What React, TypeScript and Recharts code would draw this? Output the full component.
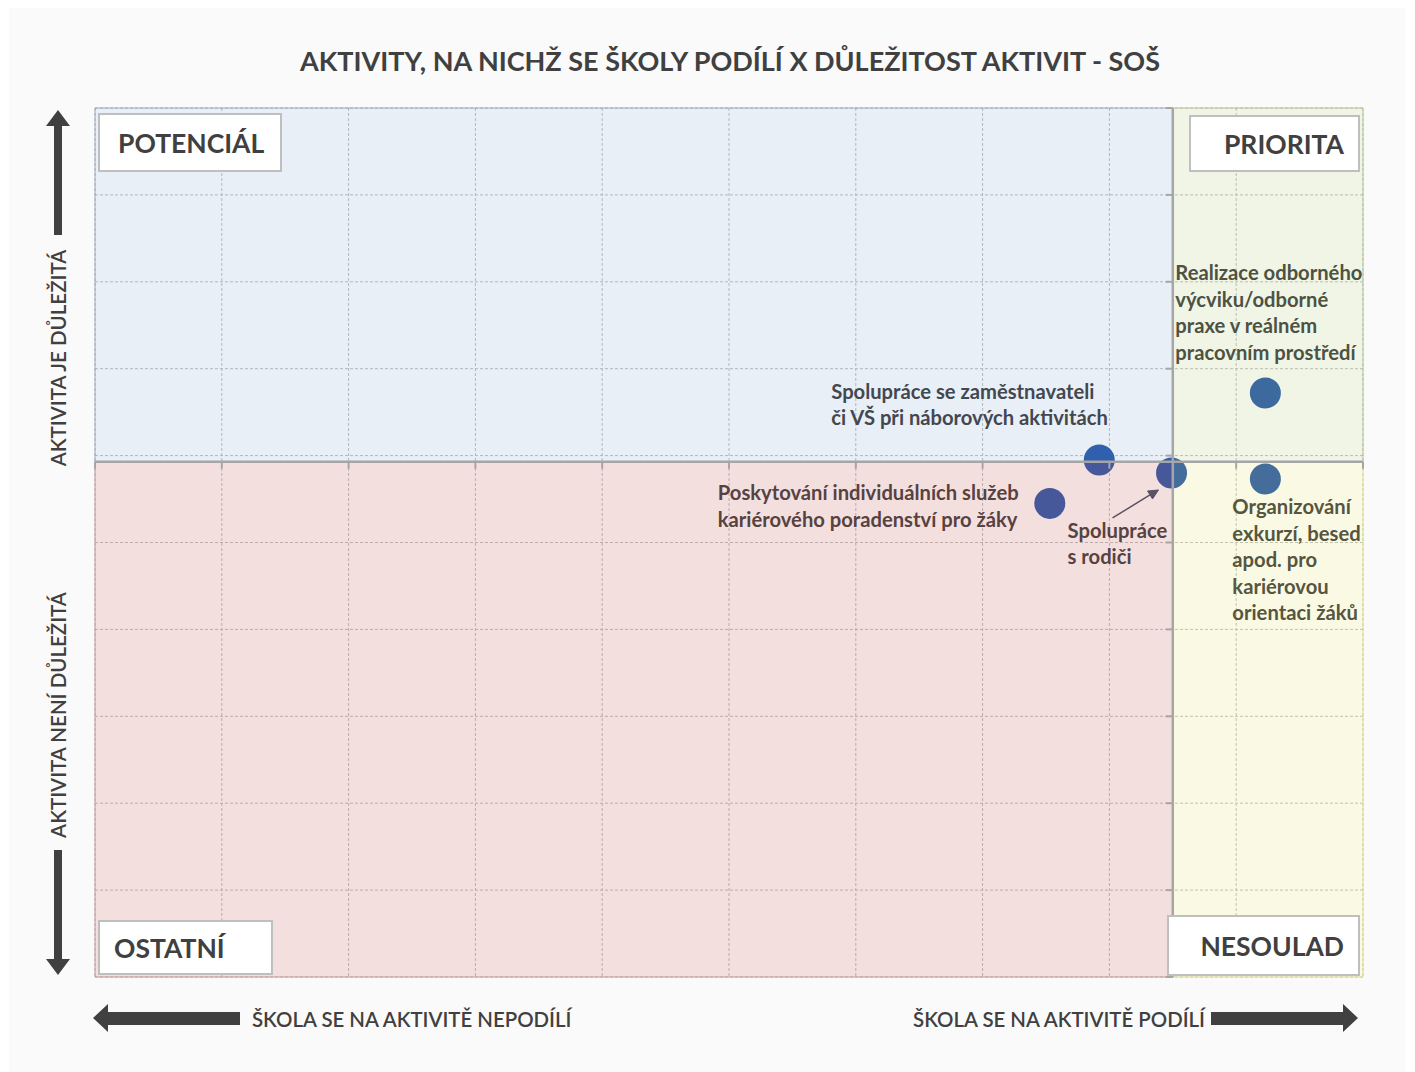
import React from 'react'
import { ScatterChart, Scatter, XAxis, YAxis, CartesianGrid, ReferenceArea, ReferenceLine } from 'recharts'

// activities (x = share of schools taking part, y = importance)
const activities = [
  'Realizace odborného výcviku/odborné praxe v reálném pracovním prostředí',
  'Organizování exkurzí, besed apod. pro kariérovou orientaci žáků',
  'Spolupráce se zaměstnavateli či VŠ při náborových aktivitách',
  'Poskytování individuálních služeb kariérového poradenství pro žáky',
  'Spolupráce s rodiči',
]
const participation = [92.3, 92.3, 79.2, 75.3, 84.9]
const importance = [6.72, 5.73, 5.95, 5.45, 5.8]
const labelLines = [
  ['Realizace odborného', 'výcviku/odborné', 'praxe v reálném', 'pracovním prostředí'],
  ['Organizování', 'exkurzí, besed', 'apod. pro', 'kariérovou', 'orientaci žáků'],
  ['Spolupráce se zaměstnavateli', 'či VŠ při náborových aktivitách'],
  ['Poskytování individuálních služeb', 'kariérového poradenství pro žáky'],
  ['Spolupráce', 's rodiči'],
]

const xTicks = [0, 10, 20, 30, 40, 50, 60, 70, 80, 90, 100]
const yTicks = [0, 1, 2, 3, 4, 5, 6, 7, 8, 9, 10]
const X_CROSS = 85
const Y_CROSS = 5.93

// label placement relative to the point (px)
const labelOffsets = [
  [-90, -113],
  [-33, 35],
  [-268, -61],
  [-332, -3],
  [-104, 65],
]

const data = activities.map((name, i) => ({ name, x: participation[i], y: importance[i], idx: i }))

const FONT = 'Lato, "Open Sans", sans-serif'
const TEXT = '#404040'

function Bubble(props: any) {
  const { cx, cy, payload } = props
  if (cx == null || cy == null) return null
  const i = payload.idx
  const [dx, dy] = labelOffsets[i]
  return (
    <g>
      <circle cx={cx} cy={cy} r={15.5} fill="#2c5bab" />
      <text x={cx + dx} y={cy + dy} fontFamily={FONT} fontWeight={700} fontSize={20.2} fill={TEXT}>
        {labelLines[i].map((l, k) => (
          <tspan key={k} x={cx + dx} dy={k === 0 ? 0 : 26.5}>
            {l}
          </tspan>
        ))}
      </text>
      {i === 4 && (
        <g stroke="#44546a" fill="#44546a">
          <line x1={cx - 59} y1={cy + 45} x2={cx - 20} y2={cy + 21} strokeWidth={1.5} />
          <polygon points={`${cx - 13},${cy + 17} ${cx - 24},${cy + 18} ${cx - 19},${cy + 26}`} />
        </g>
      )}
    </g>
  )
}

function VAxisLine(props: any) {
  const { x1, y1, x2, y2 } = props
  if (x1 == null) return null
  const n = yTicks.length - 1
  return (
    <g stroke="#a6a6a6" strokeWidth={2.5}>
      <line x1={x1} y1={y1} x2={x2} y2={y2} />
      {yTicks.map((t, k) => {
        const y = y1 + ((y2 - y1) * k) / n
        return <line key={t} x1={x1 - 7} y1={y} x2={x1} y2={y} strokeWidth={2} />
      })}
    </g>
  )
}

function HAxisLine(props: any) {
  const { x1, y1, x2, y2 } = props
  if (x1 == null) return null
  const n = xTicks.length - 1
  return (
    <g stroke="#a6a6a6" strokeWidth={2.5}>
      <line x1={x1} y1={y1} x2={x2} y2={y2} />
      {xTicks.map((t, k) => {
        const x = x1 + ((x2 - x1) * k) / n
        return <line key={t} x1={x} y1={y1} x2={x} y2={y1 + 7} strokeWidth={2} />
      })}
    </g>
  )
}

function QuadBox({ x, y, w, h, label, pad, align }: { x: number; y: number; w: number; h: number; label: string; pad: number; align: 'left' | 'right' }) {
  return (
    <g>
      <rect x={x} y={y} width={w} height={h} fill="#fff" stroke="#bfbfbf" strokeWidth={2} />
      <text
        x={align === 'left' ? x + pad : x + w - pad}
        y={y + h / 2 + 10}
        textAnchor={align === 'left' ? 'start' : 'end'}
        fontFamily={FONT}
        fontWeight={700}
        fontSize={26.5}
        fill={TEXT}
      >
        {label}
      </text>
    </g>
  )
}

function Overlay() {
  return (
    <svg width={1415} height={1072} style={{ position: 'absolute', left: 0, top: 0, pointerEvents: 'none' }}>
      <text x={730} y={71} textAnchor="middle" fontFamily={FONT} fontWeight={700} fontSize={27} fill={TEXT}>
        AKTIVITY, NA NICHŽ SE ŠKOLY PODÍLÍ X DŮLEŽITOST AKTIVIT - SOŠ
      </text>

      <QuadBox x={99} y={114} w={182} h={57} label="POTENCIÁL" pad={19} align="left" />
      <QuadBox x={1190} y={116} w={169} h={55} label="PRIORITA" pad={15} align="right" />
      <QuadBox x={99} y={921} w={173} h={53} label="OSTATNÍ" pad={15} align="left" />
      <QuadBox x={1168} y={916} w={191} h={59} label="NESOULAD" pad={15} align="right" />

      {/* direction arrows */}
      <g fill="#404040">
        <polygon points="58,110 70,126 62,126 62,235 54,235 54,126 46,126" />
        <polygon points="58,975 70,959 62,959 62,850 54,850 54,959 46,959" />
        <polygon points="93,1018 108,1004 108,1012 240,1012 240,1025 108,1025 108,1032" />
        <polygon points="1358,1018 1343,1004 1343,1012 1211,1012 1211,1025 1343,1025 1343,1032" />
      </g>
      <text
        transform="translate(66,358) rotate(-90)"
        textAnchor="middle"
        fontFamily={FONT}
        fontWeight={600}
        fontSize={20.5}
        fill={TEXT}
      >
        AKTIVITA JE DŮLEŽITÁ
      </text>
      <text
        transform="translate(66,715) rotate(-90)"
        textAnchor="middle"
        fontFamily={FONT}
        fontWeight={600}
        fontSize={20.5}
        fill={TEXT}
      >
        AKTIVITA NENÍ DŮLEŽITÁ
      </text>
      <text x={252} y={1027} fontFamily={FONT} fontWeight={600} fontSize={20.4} fill={TEXT}>
        ŠKOLA SE NA AKTIVITĚ NEPODÍLÍ
      </text>
      <text x={1205} y={1027} textAnchor="end" fontFamily={FONT} fontWeight={600} fontSize={20.4} fill={TEXT}>
        ŠKOLA SE NA AKTIVITĚ PODÍLÍ
      </text>
    </svg>
  )
}

export default function App() {
  return (
    <div style={{ position: 'absolute', left: 0, top: 0, width: 1415, height: 1072, background: '#fff' }}>
      <div style={{ position: 'absolute', left: 9, top: 8, width: 1396, height: 1064, background: '#fafafa' }} />
      <div style={{ position: 'absolute', left: 0, top: 0 }}>
        <ScatterChart width={1415} height={1072} margin={{ top: 108, right: 52, bottom: 95, left: 95 }}>
          <CartesianGrid stroke="#bfbfbf" strokeDasharray="3 2" fill="#ffffff" />
          <XAxis type="number" dataKey="x" domain={[0, 100]} ticks={xTicks} hide />
          <YAxis type="number" dataKey="y" domain={[0, 10]} ticks={yTicks} hide />
          <Scatter data={data} shape={<Bubble />} isAnimationActive={false} />
          <ReferenceArea zIndex={700} x1={0} x2={X_CROSS} y1={Y_CROSS} y2={10} fill="#4f81bd" fillOpacity={0.125} stroke="#8a9bb0" strokeOpacity={0.8} />
          <ReferenceArea zIndex={700} x1={X_CROSS} x2={100} y1={Y_CROSS} y2={10} fill="#9bbb59" fillOpacity={0.15} stroke="#b5c49a" />
          <ReferenceArea zIndex={700} x1={0} x2={X_CROSS} y1={0} y2={Y_CROSS} fill="#c0504d" fillOpacity={0.18} stroke="#c09a9a" />
          <ReferenceArea zIndex={700} x1={X_CROSS} x2={100} y1={0} y2={Y_CROSS} fill="#dede40" fillOpacity={0.14} stroke="#dede9a" />
          <ReferenceLine zIndex={800} x={X_CROSS} shape={<VAxisLine />} />
          <ReferenceLine zIndex={800} y={Y_CROSS} shape={<HAxisLine />} />
        </ScatterChart>
      </div>
      <Overlay />
    </div>
  )
}
